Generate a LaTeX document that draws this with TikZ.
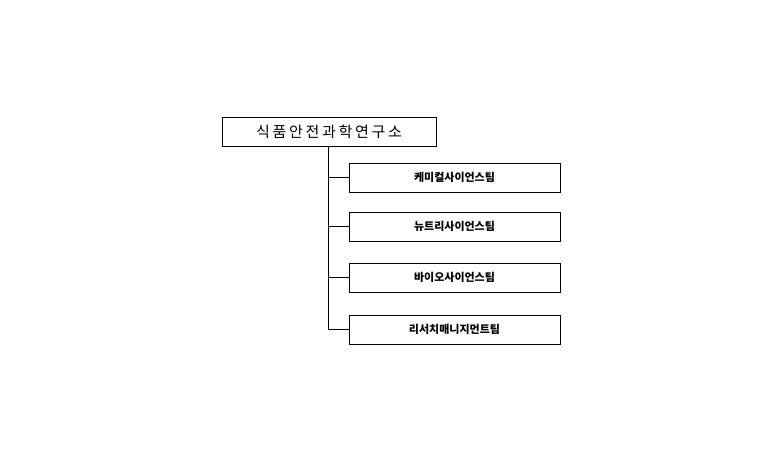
\documentclass[tikz,border=0pt]{standalone}
\usepackage{fontspec}
\newfontfamily\kr{Noto Sans CJK KR}
\newfontfamily\krwide[LetterSpace=18]{Noto Sans CJK KR}
\usetikzlibrary{positioning}
\tikzstyle{head}=[draw,thick,rectangle,inner sep=0pt,minimum width=214pt,minimum height=29pt,font=\krwide\fontsize{15}{15}\selectfont]
\tikzstyle{team}=[draw,thick,rectangle,inner sep=0pt,minimum width=211pt,minimum height=29pt,font=\kr\bfseries\fontsize{11}{11}\selectfont]
\tikzstyle{link}=[draw,thick,-]
\begin{document}
\begin{tikzpicture}[x=1pt,y=-1pt]
\useasboundingbox (0,0) rectangle (783,461);
	\node[head] (lab) at (329,131.5) {식품안전과학연구소};

	\node[team] (chem) at (454.5,177.5) {케미컬사이언스팀};
	\node[team] (nutr) at (454.5,226.5) {뉴트리사이언스팀};
	\node[team] (bio) at (454.5,277.5) {바이오사이언스팀};
	\node[team] (res) at (454.5,329.5) {리서치매니지먼트팀};

	\path[link] (lab.south -| 328,0) |- (chem.west);
	\path[link] (lab.south -| 328,0) |- (nutr.west);
	\path[link] (lab.south -| 328,0) |- (bio.west);
	\path[link] (lab.south -| 328,0) |- (res.west);
\end{tikzpicture}
\end{document}
